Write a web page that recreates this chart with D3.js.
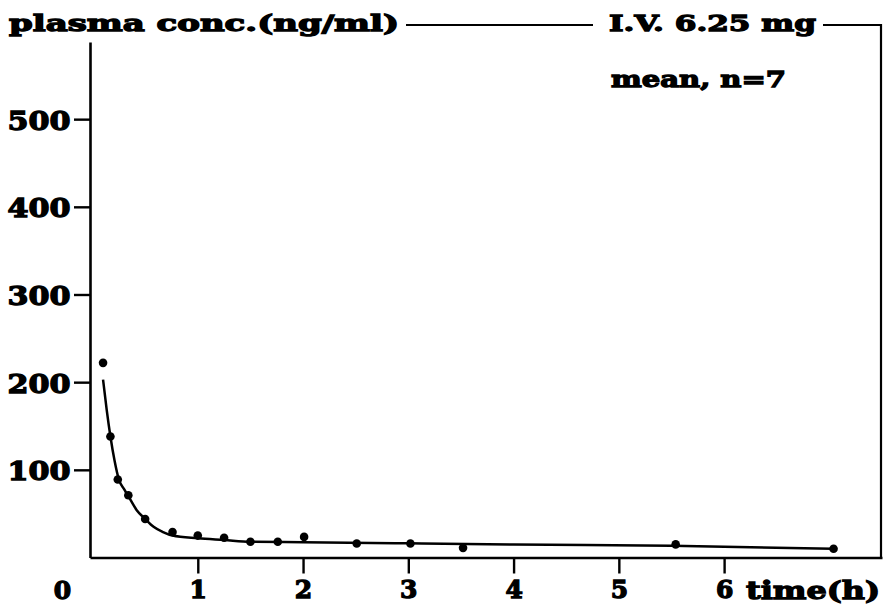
<!DOCTYPE html>
<html>
<head>
<meta charset="utf-8">
<script src="https://cdn.jsdelivr.net/npm/d3@7"></script>
<style>
  html, body { margin: 0; padding: 0; background: #fff; }
  svg { display: block; }
  text { font-family: "DejaVu Serif", serif; font-weight: bold; fill: #000; stroke: #000; stroke-width: 1.3px; }
</style>
</head>
<body>
<svg id="chart" width="890" height="606"></svg>
<script>
// measured points (time in h, plasma conc. in ng/ml)
const times = [0.10, 0.17, 0.24, 0.34, 0.50, 0.76, 1.00, 1.25, 1.50, 1.76, 2.01, 2.51, 3.02, 3.52, 5.54, 7.04];
const conc = [222, 138, 89, 71, 44, 29, 25, 22.5, 18, 18, 23.5, 16, 16, 11, 15, 10];

// fitted curve
const fitTimes = [0.10, 0.135, 0.17, 0.21, 0.25, 0.30, 0.35, 0.42, 0.50, 0.58, 0.67, 0.76, 1.00, 1.25, 1.50, 2.00, 3.00, 4.00, 5.50, 7.04];
const fitConc = [203, 168, 138, 110, 89, 78, 68, 54, 44, 35, 29, 25, 22, 20, 18, 17.5, 16.2, 14.8, 13.5, 10];

const yTicks = [100, 200, 300, 400, 500];
const xTicks = [1, 2, 3, 4, 5, 6];

const svg = d3.select('#chart');

const x = d3.scaleLinear().domain([-0.024, 7.5]).range([90, 882]);
const y = d3.scaleLinear().domain([0, 588]).range([557.5, 42]);

// left axis
const gy = svg.append('g')
  .attr('transform', `translate(${x(-0.024)},0)`)
  .call(d3.axisLeft(y).tickValues(yTicks).tickSize(16).tickSizeOuter(0).tickPadding(3.5));
gy.select('.domain').attr('stroke-width', 2.6);
gy.selectAll('.tick line').attr('stroke-width', 2.4);
gy.selectAll('.tick text')
  .attr('font-size', 26)
  .attr('dy', '0.38em')
  .attr('textLength', 63)
  .attr('lengthAdjust', 'spacingAndGlyphs');

// bottom axis
const gx = svg.append('g')
  .attr('transform', `translate(0,${y(0)})`)
  .call(d3.axisBottom(x).tickValues(xTicks).tickSize(16).tickSizeOuter(0).tickPadding(7));
gx.select('.domain').attr('stroke-width', 2.6);
gx.selectAll('.tick line').attr('stroke-width', 2.4);
gx.selectAll('.tick text').attr('font-size', 25);
svg.selectAll('.domain, .tick line').attr('stroke', '#000');
svg.selectAll('.tick text').attr('font-family', '"DejaVu Serif", serif').attr('font-weight', 'bold');

// frame: top line pieces and right border
const frame = svg.append('g').attr('fill', 'none').attr('stroke', '#000');
frame.append('line').attr('x1', 406).attr('x2', 593).attr('y1', 25).attr('y2', 25).attr('stroke-width', 1.8);
frame.append('path')
  .attr('d', `M823,25H${x(7.5) - 1}V${y(0)}`)
  .attr('stroke-width', 2.2);

// titles
svg.append('text').attr('x', 9).attr('y', 31)
  .attr('font-size', 23).attr('textLength', 390).attr('lengthAdjust', 'spacingAndGlyphs')
  .text('plasma conc.(ng/ml)');
svg.append('text').attr('x', 609).attr('y', 31)
  .attr('font-size', 23).attr('textLength', 207).attr('lengthAdjust', 'spacingAndGlyphs')
  .text('I.V. 6.25 mg');
svg.append('text').attr('x', 611).attr('y', 87)
  .attr('font-size', 23).attr('textLength', 175).attr('lengthAdjust', 'spacingAndGlyphs')
  .text('mean, n=7');
svg.append('text').attr('x', 62.5).attr('y', 598.5).attr('text-anchor', 'middle')
  .attr('font-size', 25).text('0');
svg.append('text').attr('x', 746).attr('y', 598.5)
  .attr('font-size', 25).attr('textLength', 134).attr('lengthAdjust', 'spacingAndGlyphs')
  .text('time(h)');

// fitted curve
const fit = fitTimes.map((t, i) => [t, fitConc[i]]);
svg.append('path')
  .datum(fit)
  .attr('fill', 'none')
  .attr('stroke', '#000')
  .attr('stroke-width', 2.5)
  .attr('d', d3.line().x(d => x(d[0])).y(d => y(d[1])).curve(d3.curveMonotoneX));

// measured points
svg.append('g').selectAll('circle')
  .data(times.map((t, i) => [t, conc[i]]))
  .join('circle')
  .attr('cx', d => x(d[0]))
  .attr('cy', d => y(d[1]))
  .attr('r', 4.3)
  .attr('fill', '#000');
</script>
</body>
</html>
